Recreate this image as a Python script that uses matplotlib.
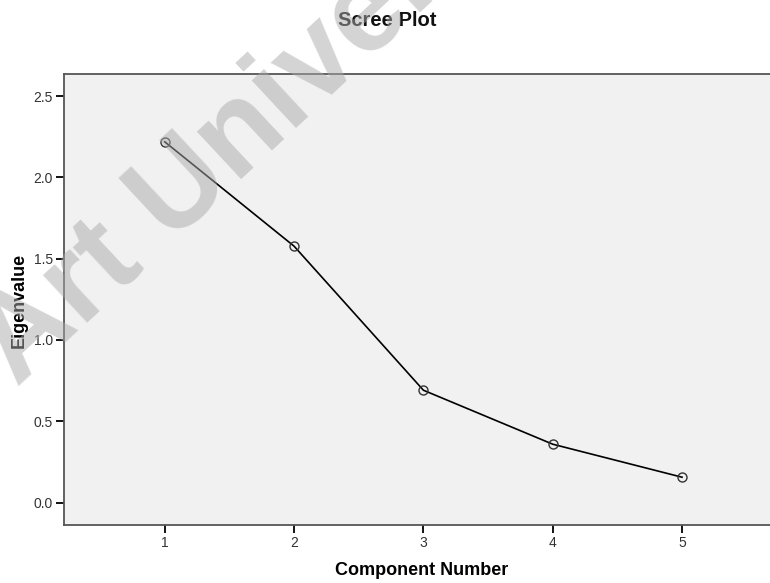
import matplotlib
matplotlib.use("Agg")
import matplotlib.pyplot as plt

components = [1, 2, 3, 4, 5]
eigenvalues = [2.219, 1.577, 0.691, 0.359, 0.156]
yticks = [0.0, 0.5, 1.0, 1.5, 2.0, 2.5]
ytick_labels = ["0.0", "0.5", "1.0", "1.5", "2.0", "2.5"]

plt.rcParams['font.family'] = ['Liberation Sans', 'DejaVu Sans']

W, H = 770, 583
fig = plt.figure(figsize=(W / 100, H / 100), dpi=100)
# axes box in pixel coords: left 64, top 74, bottom 525, right runs past the image
ax_w = (W - 64) / W + 0.02
ax = fig.add_axes([64 / W, 1 - 525 / H, ax_w, (525 - 74) / H])
ax.set_facecolor("#f1f1f1")

ax.plot(components, eigenvalues, color="black", lw=1.2, zorder=3,
        marker="o", markersize=6.5, markerfacecolor="none",
        markeredgecolor="#333333", markeredgewidth=1.0)

ax.set_xlim(0.221, 5.68 + 0.02 * W / 129.25)
ax.set_ylim(-0.138, 2.636)
ax.set_xticks(components)
ax.set_yticks(yticks)
ax.set_yticklabels(ytick_labels)

for side in ["left", "top", "bottom"]:
    ax.spines[side].set_color("#555555")
    ax.spines[side].set_linewidth(1.3)
ax.spines["right"].set_visible(False)
ax.tick_params(direction="out", length=6, width=1.3, color="black",
               labelsize=10, labelcolor="#333333", pad=2)

ax.set_xlabel("Component Number", fontsize=13, fontweight="bold", labelpad=0)
ax.set_ylabel("Eigenvalue", fontsize=13, fontweight="bold", labelpad=0)
ax_wpx = ax_w * W
ax.xaxis.set_label_coords((422 - 64) / ax_wpx, -(562 - 525) / (525 - 74))
ax.yaxis.set_label_coords(-(64 - 28) / ax_wpx, (525 - 300) / (525 - 74))

fig.text(387 / W, 1 - 21 / H, "Scree Plot", ha="center", va="center",
         fontsize=14.5, fontweight="bold", color="#111111")

# watermark across the upper left
fig.text(17 / W, 1 - 388 / H, "Art Univer", ha="left", va="baseline",
         rotation=43, rotation_mode="anchor", fontsize=88, fontweight="bold",
         color="#aaaaaa", alpha=0.5, zorder=10)

fig.savefig("out.png", dpi=100)
